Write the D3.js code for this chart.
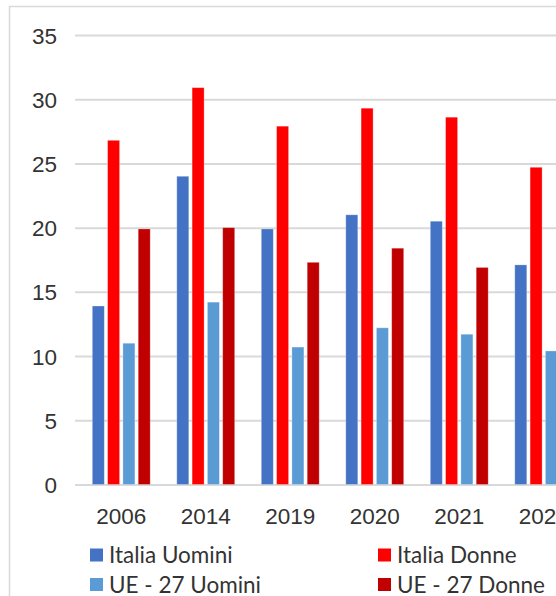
<!DOCTYPE html>
<html>
<head>
<meta charset="utf-8">
<script src="https://cdn.jsdelivr.net/npm/d3@7"></script>
<style>
  body { margin: 0; background: #fff; }
  svg { display: block; font-family: Lato, "Open Sans", sans-serif; }
  .tick-label { fill: #333; font-size: 22.5px; }
  .legend-label { fill: #333; font-size: 22.5px; }
</style>
</head>
<body>
<svg id="chart"></svg>
<script>
// categories and series
const years = ['2006', '2014', '2019', '2020', '2021', '2022'];
const seriesNames = ['Italia Uomini', 'Italia Donne', 'UE - 27 Uomini', 'UE - 27 Donne'];
const seriesColors = ['#4472C4', '#FF0000', '#5B9BD5', '#C00000'];

const italiaUomini = [13.9, 24.0, 19.9, 21.0, 20.5, 17.1];
const italiaDonne  = [26.8, 30.9, 27.9, 29.3, 28.6, 24.7];
const ueUomini     = [11.0, 14.2, 10.7, 12.2, 11.7, 10.4];
const ueDonne      = [19.9, 20.0, 17.3, 18.4, 16.9, 16.6];

const yTicks = [0, 5, 10, 15, 20, 25, 30, 35];

const seriesValues = [italiaUomini, italiaDonne, ueUomini, ueDonne];

const width = 556, height = 596;
const margin = {top: 35, left: 79, bottom: 111.5};
const plotRight = 586; // plot area runs past the cropped edge

const svg = d3.select('#chart')
    .attr('width', width)
    .attr('height', height);

// outer frame of the chart
svg.append('rect')
    .attr('x', 9.5)
    .attr('y', 6.5)
    .attr('width', 600)
    .attr('height', 620)
    .attr('fill', 'none')
    .attr('stroke', '#d9d9d9')
    .attr('stroke-width', 1.5);

const x0 = d3.scaleBand()
    .domain(years)
    .range([margin.left, plotRight])
    .paddingInner(0.2757)
    .paddingOuter(0.1379);

const x1 = d3.scaleBand()
    .domain(seriesNames)
    .range([0, x0.bandwidth()])
    .paddingInner(0.216)
    .paddingOuter(0.108);

const y = d3.scaleLinear()
    .domain([0, 35])
    .range([height - margin.bottom, margin.top]);

// gridlines
const yAxis = d3.axisLeft(y)
    .tickValues(yTicks)
    .tickSize(-(width - 75))
    .tickPadding(18);

const yAxisG = svg.append('g')
    .attr('transform', 'translate(75,0)')
    .call(yAxis);
yAxisG.select('.domain').remove();
yAxisG.selectAll('.tick line')
    .attr('stroke', '#d9d9d9')
    .attr('stroke-width', 2);
yAxisG.selectAll('.tick text')
    .attr('class', 'tick-label')
    .attr('x', -18)
    .attr('dy', '0.36em');

// bars
const groups = svg.append('g').selectAll('.bar-group')
    .data(years)
    .join('g')
    .attr('class', 'bar-group')
    .attr('transform', d => `translate(${x0(d)},0)`);

groups.selectAll('rect')
    .data((d, i) => seriesNames.map((s, j) => ({series: s, value: seriesValues[j][i], color: seriesColors[j]})))
    .join('rect')
    .attr('x', d => x1(d.series))
    .attr('y', d => y(d.value))
    .attr('width', x1.bandwidth())
    .attr('height', d => y(0) - y(d.value))
    .attr('fill', d => d.color)
    .attr('stroke', '#fff')
    .attr('stroke-opacity', 0.35)
    .attr('stroke-width', 0.8);

// x labels
const xAxis = d3.axisBottom(x0).tickSize(0).tickPadding(0);
const xAxisG = svg.append('g')
    .attr('transform', `translate(0,${y(0)})`)
    .call(xAxis);
xAxisG.select('.domain').remove();
xAxisG.selectAll('.tick text')
    .attr('class', 'tick-label')
    .attr('y', 39)
    .attr('dy', 0);

// legend
const legendPos = [
  {x: 90, y: 555}, {x: 378, y: 555},
  {x: 90, y: 584.5}, {x: 378, y: 584.5}
];

const legend = svg.append('g').selectAll('.legend-item')
    .data(seriesNames)
    .join('g')
    .attr('class', 'legend-item')
    .attr('transform', (d, i) => `translate(${legendPos[i].x},${legendPos[i].y})`);

legend.append('rect')
    .attr('x', 0)
    .attr('y', -6.5)
    .attr('width', 13)
    .attr('height', 13)
    .attr('fill', (d, i) => seriesColors[i]);

legend.append('text')
    .attr('class', 'legend-label')
    .attr('x', 19)
    .attr('y', 0)
    .attr('dy', '0.36em')
    .text(d => d);
</script>
</body>
</html>
